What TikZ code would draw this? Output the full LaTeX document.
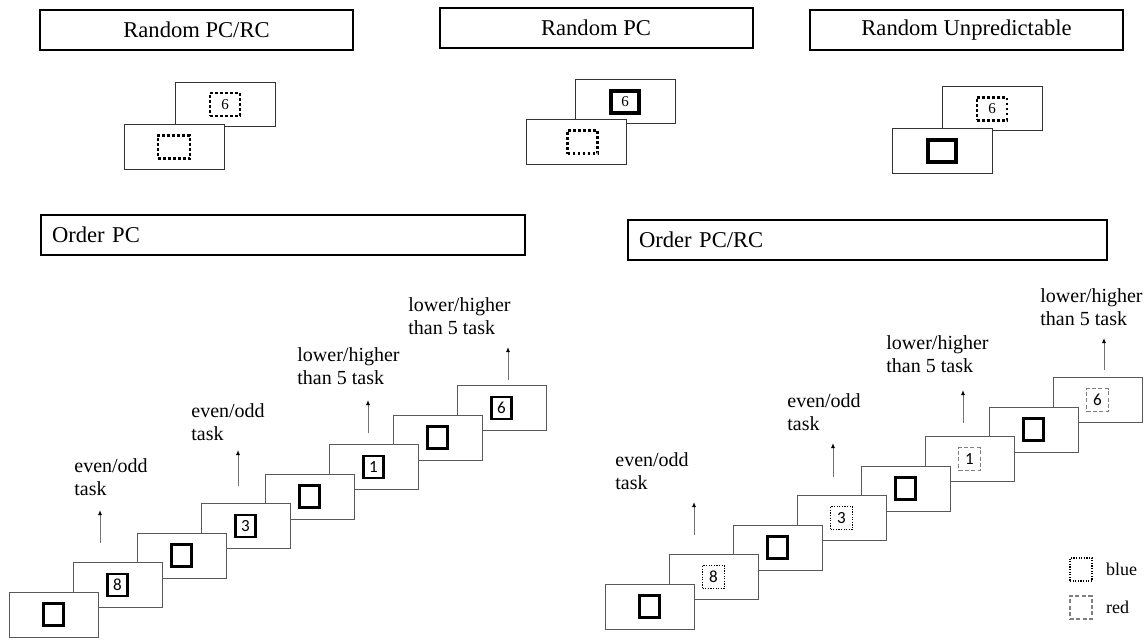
\documentclass[tikz,border=0pt]{standalone}
\usepackage{fontspec}
\setmainfont{Liberation Serif}
\newfontfamily\digitfont{Carlito}
\usetikzlibrary{positioning,arrows.meta}

\tikzset{
  banner/.style={draw, line width=1pt, minimum width=156.5pt, minimum height=20pt,
    inner sep=0pt, font=\fontsize{11.3}{13}\selectfont},
  header/.style={draw, line width=1pt, text width=231pt, inner xsep=5.5pt, inner ysep=0pt,
    minimum height=20pt, align=left, font=\fontsize{11.3}{13}\selectfont},
  screen/.style={draw=black!65, fill=white, line width=0.5pt, minimum width=44.5pt,
    minimum height=22.5pt, inner sep=0pt},
  bigscreen/.style={screen, draw=black!80, minimum width=50pt, minimum height=22pt},
  emptycue/.style={draw, line width=1.4pt, minimum width=10pt, minimum height=11pt, inner sep=0pt},
  numcue/.style={emptycue, line width=1.1pt, font=\digitfont\fontsize{8.5}{9}\selectfont},
  bluecue/.style={draw, line width=0.6pt, dash pattern=on 0.6pt off 0.7pt, minimum width=11pt,
    minimum height=11.5pt, inner sep=0pt, font=\digitfont\fontsize{8.5}{9}\selectfont},
  redcue/.style={bluecue, draw=black!50, line width=0.7pt, dash pattern=on 2pt off 1.2pt},
  heavydots/.style={draw, line width=1.3pt, dash pattern=on 1.3pt off 1.2pt, minimum width=15pt,
    minimum height=11.5pt, inner sep=0pt, font=\fontsize{7.5}{8}\selectfont},
  heavybox/.style={draw, line width=2pt, minimum width=14pt, minimum height=11pt, inner sep=0pt,
    font=\fontsize{7.5}{8}\selectfont},
  task/.style={align=left, inner sep=0pt, anchor=north west, font=\fontsize{10}{11.5}\selectfont},
  taskarrow/.style={draw=black!55, line width=0.5pt, -{Latex[length=2.5pt,width=2pt,color=black]}},
  keytext/.style={inner sep=0pt, font=\fontsize{9}{10}\selectfont}
}

\begin{document}
\begin{tikzpicture}[x=0.5pt, y=-0.5pt]
  \useasboundingbox (0,0) rectangle (1145,642);

  % titles
  \node[banner] (rndpcrc) at (196.5,30) {Random PC/RC};
  \node[banner] (rndpc) at (596,28) {Random PC};
  \node[banner] (rndunp) at (966.5,30.5) {Random Unpredictable};
  \node[header] (ordpc) at (283,235) {Order PC};
  \node[header, text width=228.5pt] (ordpcrc) at (867.5,239.5) {Order PC/RC};

  % random PC/RC
  \node[bigscreen] (a2) at (225,104.5) {};
  \node[heavydots] (a2cue) at (a2) {6};
  \node[bigscreen] (a1) at ([shift={(-51,42.5)}]a2) {};
  \node[heavydots, minimum width=16pt] (a1cue) at (a1) {};

  % random PC
  \node[bigscreen] (b2) at (625,102) {};
  \node[heavybox] (b2cue) at (b2) {6};
  \node[bigscreen] (b1) at ([shift={(-48.5,40)}]b2) {};
  \node[heavydots] (b1cue) at ([xshift=3pt]b1) {};

  % random unpredictable
  \node[bigscreen] (c2) at (992,109) {};
  \node[heavydots] (c2cue) at (c2) {6};
  \node[bigscreen] (c1) at ([shift={(-50,42)}]c2) {};
  \node[heavybox, line width=1.8pt] (c1cue) at (c1) {};

  % order PC
  \node[screen] (p7) at (501.5,408) {};
  \node[numcue] (p7cue) at (p7) {6};
  \node[screen] (p6) at ([shift={(-64,29.5)}]p7) {};
  \node[emptycue] (p6cue) at (p6) {};
  \node[screen] (p5) at ([shift={(-64,29.5)}]p6) {};
  \node[numcue] (p5cue) at (p5) {1};
  \node[screen] (p4) at ([shift={(-64,29.5)}]p5) {};
  \node[emptycue] (p4cue) at (p4) {};
  \node[screen] (p3) at ([shift={(-64,29.5)}]p4) {};
  \node[numcue] (p3cue) at (p3) {3};
  \node[screen] (p2) at ([shift={(-64,29.5)}]p3) {};
  \node[emptycue] (p2cue) at (p2) {};
  \node[screen] (p1) at ([shift={(-64,29.5)}]p2) {};
  \node[numcue] (p1cue) at (p1) {8};
  \node[screen] (p0) at ([shift={(-64,29.5)}]p1) {};
  \node[emptycue] (p0cue) at (p0) {};

  \coordinate (p1base) at (100,543);
  \coordinate (p1tip) at (100,510);
  \coordinate (p3base) at (238,486);
  \coordinate (p3tip) at (238,450);
  \coordinate (p5base) at (368,433);
  \coordinate (p5tip) at (368,400);
  \coordinate (p7base) at (508,380);
  \coordinate (p7tip) at (508,347);
  \draw[taskarrow] (p1base) -- (p1tip);
  \draw[taskarrow] (p3base) -- (p3tip);
  \draw[taskarrow] (p5base) -- (p5tip);
  \draw[taskarrow] (p7base) -- (p7tip);

  \node[task] (p1task) at (74,458) {even/odd\\task};
  \node[task] (p3task) at (191,403) {even/odd\\task};
  \node[task] (p5task) at (297,347) {lower/higher\\than 5 task};
  \node[task] (p7task) at (408,297) {lower/higher\\than 5 task};

  % order PC/RC
  \node[screen] (r7) at (1097.5,400) {};
  \node[redcue] (r7cue) at (r7) {6};
  \node[screen] (r6) at ([shift={(-64,29.5)}]r7) {};
  \node[emptycue] (r6cue) at (r6) {};
  \node[screen] (r5) at ([shift={(-64,29.5)}]r6) {};
  \node[redcue] (r5cue) at (r5) {1};
  \node[screen] (r4) at ([shift={(-64,29.5)}]r5) {};
  \node[emptycue] (r4cue) at (r4) {};
  \node[screen] (r3) at ([shift={(-64,29.5)}]r4) {};
  \node[bluecue] (r3cue) at (r3) {3};
  \node[screen] (r2) at ([shift={(-64,29.5)}]r3) {};
  \node[emptycue] (r2cue) at (r2) {};
  \node[screen] (r1) at ([shift={(-64,29.5)}]r2) {};
  \node[bluecue] (r1cue) at (r1) {8};
  \node[screen] (r0) at ([shift={(-64,29.5)}]r1) {};
  \node[emptycue] (r0cue) at (r0) {};

  \coordinate (r1base) at (694,535);
  \coordinate (r1tip) at (694,502);
  \coordinate (r3base) at (833,477);
  \coordinate (r3tip) at (833,443);
  \coordinate (r5base) at (963,423);
  \coordinate (r5tip) at (963,390);
  \coordinate (r7base) at (1104,370);
  \coordinate (r7tip) at (1104,338);
  \draw[taskarrow] (r1base) -- (r1tip);
  \draw[taskarrow] (r3base) -- (r3tip);
  \draw[taskarrow] (r5base) -- (r5tip);
  \draw[taskarrow] (r7base) -- (r7tip);

  \node[task] (r1task) at (615,452) {even/odd\\task};
  \node[task] (r3task) at (787,393) {even/odd\\task};
  \node[task] (r5task) at (886,335) {lower/higher\\than 5 task};
  \node[task] (r7task) at (1040,288) {lower/higher\\than 5 task};

  % key
  \node[bluecue] (keyblue) at (1081,569.5) {};
  \node[keytext] (keybluetxt) [right=6.5pt of keyblue] {blue};
  \node[redcue] (keyred) at (1081,607.5) {};
  \node[keytext] (keyredtxt) [right=6.5pt of keyred] {red};
\end{tikzpicture}
\end{document}
